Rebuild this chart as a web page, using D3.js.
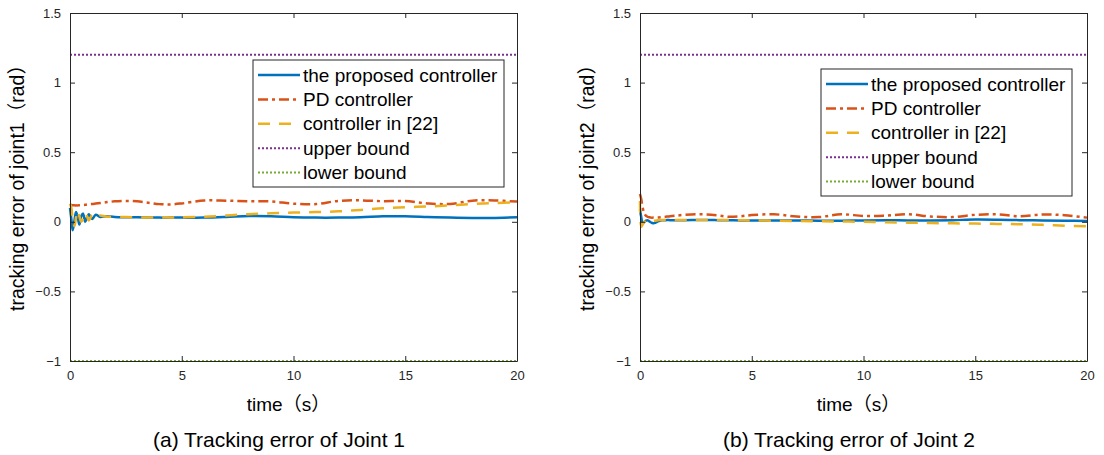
<!doctype html>
<html>
<head>
<meta charset="utf-8">
<script src="https://d3js.org/d3.v7.min.js"></script>
<style>
  body { margin: 0; background: #fff; }
  svg { display: block; font-family: "Liberation Sans", Arial, "Noto Sans CJK SC", sans-serif; }
</style>
</head>
<body>
<div id="chart"></div>
<script>
// time samples (s), denser in the first second for the transient
var timeSteps = [0, 0.06, 0.12, 0.2, 0.27, 0.35, 0.42, 0.5, 0.58, 0.68, 0.76, 0.84, 0.92, 1.0,
  1.15, 1.35, 1.6, 2, 2.5, 3, 3.5, 4, 4.5, 5, 6, 7, 8, 9, 10, 11, 12, 13, 14, 15, 16, 17, 18, 19, 20];

// joint 1
var proposed1 = [0.10, 0.02, -0.06, 0.01, 0.07, 0.03, -0.02, 0.04, 0.06, 0.0, 0.03, 0.055, 0.035, 0.02,
  0.05, 0.035, 0.04, 0.035, 0.033, 0.032, 0.031, 0.03, 0.03, 0.03, 0.03, 0.035, 0.042, 0.04, 0.033, 0.03,
  0.03, 0.032, 0.04, 0.04, 0.035, 0.03, 0.027, 0.028, 0.032];
var pd1 = [0.12, 0.12, 0.119, 0.118, 0.118, 0.118, 0.119, 0.12, 0.121, 0.122, 0.124, 0.125, 0.127, 0.128,
  0.131, 0.135, 0.14, 0.147, 0.15, 0.147, 0.137, 0.127, 0.125, 0.132, 0.153, 0.152, 0.148, 0.146, 0.13, 0.127,
  0.15, 0.154, 0.148, 0.149, 0.132, 0.128, 0.152, 0.153, 0.145];
var ref1 = [0.13, 0.10, 0.02, -0.03, 0.03, 0.08, 0.04, 0.0, 0.02, 0.065, 0.04, 0.01, 0.03, 0.05,
  0.03, 0.045, 0.038, 0.035, 0.034, 0.032, 0.031, 0.03, 0.031, 0.032, 0.036, 0.045, 0.055, 0.061, 0.066, 0.07,
  0.075, 0.085, 0.097, 0.105, 0.11, 0.118, 0.128, 0.135, 0.14];

// joint 2
var proposed2 = [0.09, 0.03, -0.01, 0.0, 0.008, 0.01, 0.003, -0.005, -0.01, -0.008, 0.0, 0.006, 0.01, 0.011,
  0.012, 0.012, 0.012, 0.012, 0.013, 0.013, 0.012, 0.011, 0.01, 0.01, 0.01, 0.01, 0.008, 0.008, 0.01, 0.011,
  0.01, 0.01, 0.012, 0.016, 0.015, 0.012, 0.01, 0.008, 0.006];
var pd2 = [0.2, 0.16, 0.1, 0.06, 0.042, 0.035, 0.032, 0.03, 0.03, 0.03, 0.03, 0.031, 0.032, 0.033,
  0.036, 0.04, 0.044, 0.05, 0.054, 0.052, 0.045, 0.036, 0.04, 0.048, 0.054, 0.038, 0.034, 0.054, 0.042, 0.045,
  0.054, 0.038, 0.034, 0.05, 0.053, 0.04, 0.053, 0.047, 0.03];
var ref2 = [0.15, -0.035, -0.02, 0.0, 0.012, 0.016, 0.014, 0.01, 0.008, 0.008, 0.01, 0.012, 0.013, 0.013,
  0.013, 0.013, 0.013, 0.013, 0.013, 0.013, 0.013, 0.012, 0.011, 0.01, 0.008, 0.006, 0.004, 0.002, 0.0, -0.003,
  -0.006, -0.009, -0.011, -0.013, -0.015, -0.018, -0.022, -0.028, -0.032];

var upperBound = 1.2;
var lowerBound = -1;

var xTicks = [0, 5, 10, 15, 20];
var yTicks = [-1, -0.5, 0, 0.5, 1, 1.5];
var legendLabels = ["the proposed controller", "PD controller", "controller in [22]", "upper bound", "lower bound"];

var colors = ["#0072BD", "#D95319", "#EDB120", "#7E2F8E", "#77AC30"];
var dashes = [null, "10,4,3,4", "12,9", "2,2", "2,2"];
var widths = [2.5, 2.5, 2.5, 2, 2];

var panels = [
  { left: 70, yLabel: "tracking error of joint1（rad）", caption: "(a) Tracking error of Joint 1",
    series: [proposed1, pd1, ref1], legend: { x: 253, y: 60 } },
  { left: 640, yLabel: "tracking error of joint2（rad）", caption: "(b) Tracking error of Joint 2",
    series: [proposed2, pd2, ref2], legend: { x: 821, y: 69 } }
];

var plotW = 447, plotTop = 13, plotBottom = 361;
var axisColor = "#262626";
var fontStack = '"Liberation Sans", Arial, "Noto Sans CJK SC", sans-serif';

var svg = d3.select("#chart").append("svg")
  .attr("width", 1104)
  .attr("height", 455);

panels.forEach(function(p) {
  var x = d3.scaleLinear().domain([0, 20]).range([p.left, p.left + plotW]);
  var y = d3.scaleLinear().domain([-1, 1.5]).range([plotBottom, plotTop]);
  var g = svg.append("g");

  // data lines
  var line = d3.line()
    .x(function(d, i) { return x(timeSteps[i]); })
    .y(function(d) { return y(d); })
    .curve(d3.curveCatmullRom.alpha(0.5));

  p.series.forEach(function(vals, k) {
    g.append("path")
      .attr("d", line(vals))
      .attr("fill", "none")
      .attr("stroke", colors[k])
      .attr("stroke-width", widths[k])
      .attr("stroke-dasharray", dashes[k]);
  });

  // bounds
  [upperBound, lowerBound].forEach(function(b, j) {
    g.append("line")
      .attr("x1", x(0)).attr("x2", x(20))
      .attr("y1", y(b)).attr("y2", y(b))
      .attr("stroke", colors[3 + j])
      .attr("stroke-width", widths[3 + j])
      .attr("stroke-dasharray", dashes[3 + j]);
  });

  // axes: box with inward ticks on all sides
  var axB = d3.axisBottom(x).tickValues(xTicks).tickSizeInner(-5).tickSizeOuter(0).tickPadding(10);
  var axT = d3.axisTop(x).tickValues(xTicks).tickSizeInner(-5).tickSizeOuter(0).tickFormat("");
  var axL = d3.axisLeft(y).tickValues(yTicks).tickSizeInner(-5).tickSizeOuter(0).tickPadding(9)
    .tickFormat(function(d) { return d3.format("")(d); });
  var axR = d3.axisRight(y).tickValues(yTicks).tickSizeInner(-5).tickSizeOuter(0).tickFormat("");

  [[axB, "translate(0," + plotBottom + ")"], [axT, "translate(0," + plotTop + ")"],
   [axL, "translate(" + p.left + ",0)"], [axR, "translate(" + (p.left + plotW) + ",0)"]]
    .forEach(function(a) {
      var ag = g.append("g").attr("transform", a[1]).call(a[0])
        .attr("font-family", fontStack).attr("font-size", 13);
      ag.select(".domain").attr("stroke", axisColor);
      ag.selectAll(".tick line").attr("stroke", axisColor);
      ag.selectAll(".tick text").attr("fill", axisColor);
    });

  // legend
  var lg = g.append("g").attr("transform", "translate(" + p.legend.x + "," + p.legend.y + ")");
  lg.append("rect")
    .attr("width", 251).attr("height", 127)
    .attr("fill", "#fff").attr("stroke", axisColor).attr("stroke-width", 1);
  legendLabels.forEach(function(lab, k) {
    var ry = 15 + k * 24.4;
    lg.append("line")
      .attr("x1", 5).attr("x2", 47).attr("y1", ry).attr("y2", ry)
      .attr("stroke", colors[k]).attr("stroke-width", widths[k])
      .attr("stroke-dasharray", dashes[k]);
    lg.append("text")
      .attr("x", 50).attr("y", ry).attr("dy", "0.35em")
      .attr("font-size", 19).attr("fill", "#000")
      .text(lab);
  });

  // labels
  g.append("text")
    .attr("transform", "translate(" + (p.left - 53) + "," + 183 + ") rotate(-90)")
    .attr("text-anchor", "middle").attr("dy", "0.35em")
    .attr("font-size", 19.5).attr("fill", "#000")
    .text(p.yLabel);
  g.append("text")
    .attr("x", p.left + plotW / 2 - 5).attr("y", 411)
    .attr("text-anchor", "middle")
    .attr("font-size", 19).attr("fill", "#000")
    .text("time（s）");
  g.append("text")
    .attr("x", p.left + 209).attr("y", 447)
    .attr("text-anchor", "middle")
    .attr("font-size", 21).attr("fill", "#000")
    .text(p.caption);
});
</script>
</body>
</html>
